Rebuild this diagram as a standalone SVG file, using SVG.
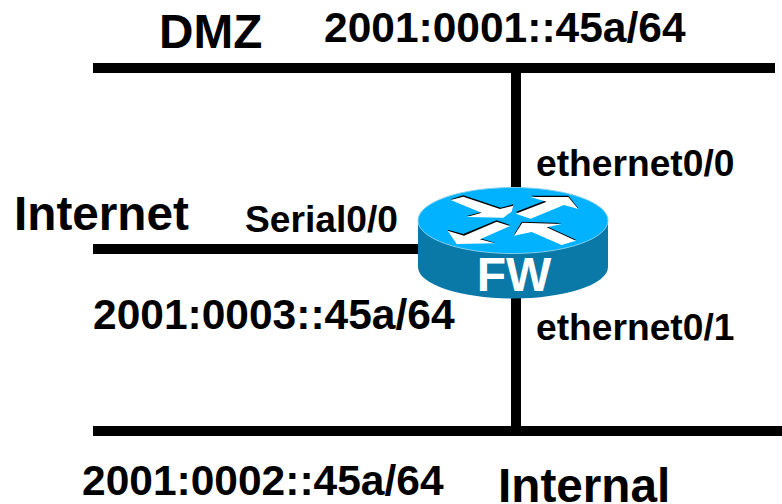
<svg xmlns="http://www.w3.org/2000/svg" width="782" height="504" viewBox="0 0 782 504">
<style>
text{font-family:"Liberation Sans",Arial,sans-serif;font-weight:700;fill:#000}
.b{font-size:47.7px}.l{font-size:42.5px}.m{font-size:37.2px}
.w{stroke:#000;stroke-width:10;fill:none}
.a{fill:#fff}.s{fill:#000}
</style>
<rect width="782" height="504" fill="#fff"/>
<g id="connectors">
<path class="w" d="M93 68H775M93 249H420M93 431H782M516 68V431"/>
</g>
<g id="fw">
<path d="M418 220V267C418 285 463 298.500 513 298.500C563 298.500 608 285 608 267V220Z" fill="#0a79a8"/>
<ellipse cx="513" cy="220.500" rx="95" ry="33" fill="#00b2ff" stroke="#7fd0ee" stroke-width="1"/>
<g transform="translate(400 170) scale(.3333)">
<path class="s" d="M152 88L190 76L302 113L340 103L335 123L310 141L200 138L245 126Z"/>
<path class="a" d="M152 90L190 80L300 117L340 107L335 125L310 143L200 141L245 128Z"/>
<path class="s" d="M347 126L438 91L392 77L505 77L535 115L492 103L392 143Z"/>
<path class="a" d="M347 131L440 95L392 81L505 81L535 117L492 105L392 146Z"/>
<path class="s" d="M190 192L290 151L330 165L240 205L285 218L170 220L143 179Z"/>
<path class="a" d="M192 197L290 155L330 168L240 208L285 220L170 222L143 182Z"/>
<path class="s" d="M342 194L365 155L485 159L440 169L528 209L485 222L395 182Z"/>
<path class="a" d="M342 197L367 158L485 162L440 172L528 212L485 225L395 186Z"/>
</g>
<text x="514" y="291" text-anchor="middle" style="font-size:48px;fill:#fff">FW</text>
</g>
<g id="labels">
<text class="b" x="159" y="48">DMZ</text>
<text class="l" x="324" y="42">2001:0001::45a/64</text>
<text class="m" x="536" y="176">ethernet0/0</text>
<text class="b" x="14" y="230">Internet</text>
<text class="m" x="245" y="232">Serial0/0</text>
<text class="l" x="93" y="329">2001:0003::45a/64</text>
<text class="m" x="536" y="340">ethernet0/1</text>
<text class="l" x="82" y="495">2001:0002::45a/64</text>
<text class="b" x="498" y="502">Internal</text>
</g>
</svg>
